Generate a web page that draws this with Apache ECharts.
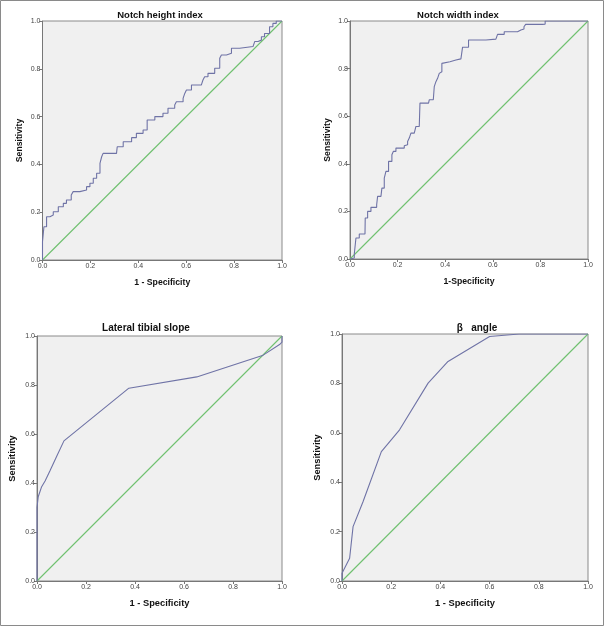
<!DOCTYPE html>
<html>
<head>
<meta charset="utf-8">
<script src="https://cdn.jsdelivr.net/npm/echarts@6/dist/echarts.min.js"></script>
<style>
html,body{margin:0;padding:0;background:#fff;}
#c{width:605px;height:627px;}
</style>
</head>
<body>
<div id="c"></div>
<script>
// ---- data ----
const panelTitles = ['Notch height index', 'Notch width index', 'Lateral tibial slope', 'β   angle'];
const xAxisNames = ['1 - Specificity', '1-Specificity', '1 - Specificity', '1 - Specificity'];
const yAxisName = 'Sensitivity';
const tickValues = [0, 0.2, 0.4, 0.6, 0.8, 1.0];

// Notch height index (step ROC)
const notchHeightFpr = [0, 0, 0.006, 0.006, 0.017, 0.017, 0.031, 0.045, 0.066, 0.087, 0.1, 0.12, 0.128, 0.156, 0.184, 0.198, 0.212, 0.226, 0.24, 0.247, 0.253, 0.309, 0.312, 0.337, 0.372, 0.392, 0.42, 0.437, 0.469, 0.503, 0.524, 0.552, 0.559, 0.587, 0.594, 0.601, 0.622, 0.663, 0.67, 0.677, 0.691, 0.719, 0.74, 0.747, 0.768, 0.789, 0.823, 0.879, 0.886, 0.9, 0.914, 0.927, 0.948, 0.962, 0.976, 1.0];
const notchHeightTpr = [0, 0.077, 0.077, 0.139, 0.139, 0.181, 0.188, 0.202, 0.223, 0.237, 0.251, 0.272, 0.286, 0.293, 0.307, 0.321, 0.342, 0.363, 0.404, 0.432, 0.446, 0.446, 0.474, 0.495, 0.512, 0.53, 0.544, 0.586, 0.6, 0.614, 0.635, 0.649, 0.662, 0.676, 0.697, 0.711, 0.732, 0.739, 0.753, 0.767, 0.781, 0.802, 0.844, 0.858, 0.865, 0.886, 0.893, 0.893, 0.914, 0.92, 0.934, 0.948, 0.976, 0.99, 1.0, 1.0];

// Notch width index (step ROC)
const notchWidthFpr = [0, 0.004, 0.018, 0.025, 0.025, 0.039, 0.063, 0.064, 0.074, 0.088, 0.112, 0.116, 0.13, 0.134, 0.144, 0.151, 0.162, 0.176, 0.182, 0.193, 0.228, 0.235, 0.242, 0.249, 0.256, 0.27, 0.277, 0.291, 0.294, 0.33, 0.333, 0.35, 0.354, 0.361, 0.368, 0.375, 0.382, 0.386, 0.392, 0.42, 0.445, 0.466, 0.473, 0.498, 0.571, 0.613, 0.62, 0.648, 0.704, 0.718, 0.731, 0.738, 0.808, 0.82, 1.0];
const notchWidthTpr = [0, 0.004, 0.021, 0.025, 0.088, 0.105, 0.105, 0.172, 0.2, 0.217, 0.228, 0.263, 0.263, 0.298, 0.34, 0.368, 0.41, 0.438, 0.452, 0.466, 0.476, 0.48, 0.494, 0.508, 0.529, 0.536, 0.557, 0.564, 0.655, 0.655, 0.669, 0.676, 0.724, 0.745, 0.759, 0.78, 0.787, 0.822, 0.829, 0.836, 0.841, 0.846, 0.89, 0.92, 0.924, 0.93, 0.944, 0.955, 0.962, 0.966, 0.976, 0.986, 0.987, 1.0, 1.0];

// Lateral tibial slope
const tibialFpr = [0, 0, 0.005, 0.019, 0.033, 0.053, 0.08, 0.11, 0.375, 0.652, 0.92, 0.99, 1.0, 1.0];
const tibialTpr = [0, 0.3, 0.344, 0.385, 0.408, 0.45, 0.508, 0.572, 0.787, 0.833, 0.92, 0.965, 0.975, 1.0];

// beta angle
const betaFpr = [0, 0, 0.031, 0.045, 0.085, 0.16, 0.234, 0.35, 0.431, 0.6, 0.72, 1.0];
const betaTpr = [0, 0.031, 0.092, 0.22, 0.32, 0.524, 0.612, 0.801, 0.889, 0.99, 1.0, 1.0];

const refFpr = [0, 1];
const refTpr = [0, 1];

// ---- layout ----
const grids = [
  {left: 42.5, top: 21, width: 239.5, height: 239},
  {left: 350, top: 21, width: 238, height: 238},
  {left: 37, top: 336, width: 245, height: 245},
  {left: 342, top: 334, width: 246, height: 247}
];
const titlePos = [[160, 15, 9.5], [458, 15, 9.5], [146, 328, 10], [477, 328, 10]];
const nameSizes = [8.7, 8.7, 9.3, 9.3];
const curves = [
  [notchHeightFpr, notchHeightTpr, 'end'],
  [notchWidthFpr, notchWidthTpr, 'end'],
  [tibialFpr, tibialTpr, false],
  [betaFpr, betaTpr, false]
];

const pair = (xs, ys) => xs.map((x, i) => [x, ys[i]]);
const curveColor = '#6f73a6';
const refColor = '#6fc06f';
const font = '"Liberation Sans", Arial, sans-serif';

const option = {
  animation: false,
  backgroundColor: '#ffffff',
  grid: grids.map(g => Object.assign({
    show: true, backgroundColor: '#f0f0f0', borderColor: '#8a8a8a', borderWidth: 1, containLabel: false
  }, g)),
  xAxis: grids.map((g, i) => ({
    gridIndex: i, type: 'value', min: 0, max: 1, interval: 0.2,
    name: xAxisNames[i], nameLocation: 'middle', nameGap: i < 2 ? 18 : 18,
    nameTextStyle: {fontFamily: font, fontWeight: 'bold', fontSize: nameSizes[i], color: '#111'},
    axisLine: {show: true, lineStyle: {color: '#777', width: 1}},
    axisTick: {show: true, length: 3, lineStyle: {color: '#777'}},
    axisLabel: {fontFamily: font, fontSize: 7, color: '#444', margin: 3,
      formatter: v => v.toFixed(1)},
    splitLine: {show: false}
  })),
  yAxis: grids.map((g, i) => ({
    gridIndex: i, type: 'value', min: 0, max: 1, interval: 0.2,
    name: yAxisName, nameLocation: 'middle', nameGap: i < 2 ? 18 : 20,
    nameTextStyle: {fontFamily: font, fontWeight: 'bold', fontSize: nameSizes[i], color: '#111'},
    axisLine: {show: true, lineStyle: {color: '#777', width: 1}},
    axisTick: {show: true, length: 3, lineStyle: {color: '#777'}},
    axisLabel: {fontFamily: font, fontSize: 7, color: '#444', margin: 2,
      formatter: v => v.toFixed(1)},
    splitLine: {show: false}
  })),
  series: [],
  graphic: []
};

curves.forEach((c, i) => {
  option.series.push({
    type: 'line', xAxisIndex: i, yAxisIndex: i, data: pair(refFpr, refTpr),
    symbol: 'none', lineStyle: {color: refColor, width: 1.1}, silent: true, z: 2
  });
  option.series.push({
    type: 'line', xAxisIndex: i, yAxisIndex: i, data: pair(c[0], c[1]),
    step: c[2], symbol: 'none', lineStyle: {color: curveColor, width: 1.1}, silent: true, z: 3
  });
  option.graphic.push({
    type: 'text', x: titlePos[i][0], y: titlePos[i][1],
    style: {text: panelTitles[i], font: 'bold ' + titlePos[i][2] + 'px ' + font,
      fill: '#111', textAlign: 'center', textVerticalAlign: 'middle'}
  });
});

option.graphic.push({
  type: 'rect', shape: {x: 0.5, y: 0.5, width: 603, height: 625},
  style: {fill: null, stroke: '#8a8a8a', lineWidth: 1}, silent: true
});

const chart = echarts.init(document.getElementById('c'), null, {renderer: 'canvas'});
chart.setOption(option);
</script>
</body>
</html>
